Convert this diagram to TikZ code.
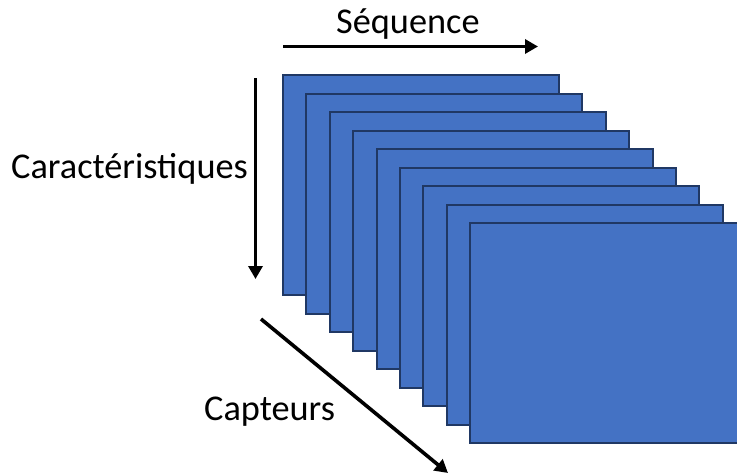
\documentclass[tikz,border=0pt]{standalone}
\usepackage{fontspec}
\setmainfont{Carlito}
\usetikzlibrary{arrows.meta}
\definecolor{framefill}{HTML}{4472C4}
\definecolor{frameline}{HTML}{203864}
\tikzset{
  frame/.style={draw=frameline, fill=framefill, line width=2pt,
    minimum width=276pt, minimum height=220pt, inner sep=0pt,
    outer sep=0pt, anchor=north west},
  axis/.style={line width=3.6pt, -{Triangle[length=13pt,width=14pt]}},
  axislabel/.style={inner sep=0pt, anchor=base west,
    font=\fontsize{36.3}{40}\selectfont}
}
\begin{document}
\begin{tikzpicture}[x=1pt,y=-1pt]
  \useasboundingbox (0,0) rectangle (737,474);
  % stack of frames, back to front
  \foreach \i in {0,...,8} {
    \node[frame] (f\i) at ({283+23.4*\i},{75+18.5*\i}) {};
  }
  % axes
  \coordinate (seqA) at (283,46.5);
  \coordinate (seqB) at (538,46.5);
  \draw[axis] (seqA) -- (seqB);
  \coordinate (carA) at (255.5,78);
  \coordinate (carB) at (255.5,279);
  \draw[axis] (carA) -- (carB);
  \coordinate (capA) at (261,319);
  \coordinate (capB) at (448,473);
  \draw[axis] (capA) -- (capB);
  % labels
  \node[axislabel] (seq) at (336,33) {Séquence};
  \node[axislabel] (car) at (11,178) {Caractéristiques};
  \node[axislabel] (cap) at (204,420) {Capteurs};
\end{tikzpicture}
\end{document}
